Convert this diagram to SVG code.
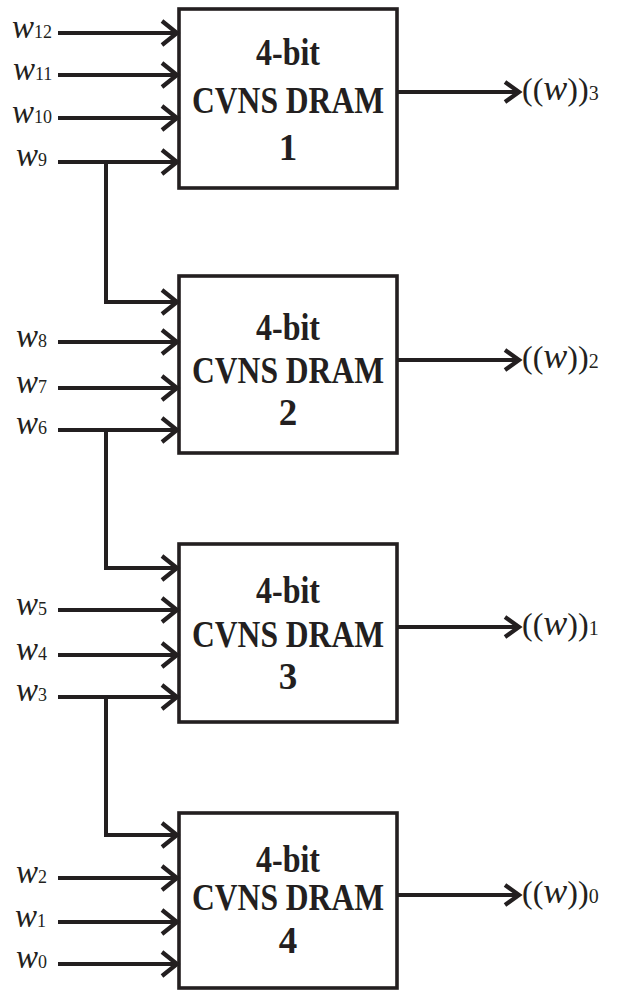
<svg xmlns="http://www.w3.org/2000/svg" width="619" height="990" viewBox="0 0 619 990">
<style>
.box{fill:#fff;stroke:#231f20;stroke-width:3.6}
.ln{fill:none;stroke:#231f20;stroke-width:4;stroke-linejoin:miter;stroke-linecap:butt}
.bt{font-family:"Liberation Serif","Times New Roman",serif;font-weight:bold;font-size:37px;fill:#231f20;text-anchor:middle}
.w{font-family:"Liberation Serif","Times New Roman",serif;font-style:italic;font-size:33px;fill:#231f20}
.sub{font-family:"Liberation Serif","Times New Roman",serif;font-style:normal;font-size:18px}
.o{font-family:"Liberation Serif","Times New Roman",serif;font-size:32px;fill:#231f20}
</style>
<defs>
<marker id="arr" markerUnits="userSpaceOnUse" markerWidth="20" markerHeight="30" refX="16" refY="13" orient="auto" overflow="visible">
<path d="M1,1 L16,13 L1,25" fill="none" stroke="#231f20" stroke-width="4.2"/>
</marker>
<marker id="arr2" markerUnits="userSpaceOnUse" markerWidth="20" markerHeight="30" refX="15" refY="11" orient="auto" overflow="visible">
<path d="M1,1 L15,11 L1,21" fill="none" stroke="#231f20" stroke-width="4.2"/>
</marker>
</defs>
<g id="node1">
<rect class="box" x="179" y="9" width="218" height="179"/>
<text class="bt" x="288" y="65" textLength="64" lengthAdjust="spacingAndGlyphs">4-bit</text>
<text class="bt" x="288" y="113" textLength="192" lengthAdjust="spacingAndGlyphs">CVNS DRAM</text>
<text class="bt" x="288" y="160">1</text>
</g>
<g id="node2">
<rect class="box" x="179" y="276" width="218" height="177"/>
<text class="bt" x="288" y="340" textLength="64" lengthAdjust="spacingAndGlyphs">4-bit</text>
<text class="bt" x="288" y="383" textLength="192" lengthAdjust="spacingAndGlyphs">CVNS DRAM</text>
<text class="bt" x="288" y="425">2</text>
</g>
<g id="node3">
<rect class="box" x="179" y="544" width="218" height="178"/>
<text class="bt" x="288" y="603" textLength="64" lengthAdjust="spacingAndGlyphs">4-bit</text>
<text class="bt" x="288" y="647" textLength="192" lengthAdjust="spacingAndGlyphs">CVNS DRAM</text>
<text class="bt" x="288" y="689">3</text>
</g>
<g id="node4">
<rect class="box" x="179" y="813" width="218" height="175"/>
<text class="bt" x="288" y="872" textLength="64" lengthAdjust="spacingAndGlyphs">4-bit</text>
<text class="bt" x="288" y="910" textLength="192" lengthAdjust="spacingAndGlyphs">CVNS DRAM</text>
<text class="bt" x="288" y="953">4</text>
</g>
<g id="connectors">
<path class="ln" marker-end="url(#arr)" d="M58,33 H177"/>
<path class="ln" marker-end="url(#arr)" d="M58,75 H177"/>
<path class="ln" marker-end="url(#arr)" d="M58,118 H177"/>
<path class="ln" marker-end="url(#arr)" d="M58,162 H177"/>
<path class="ln" marker-end="url(#arr)" d="M106,162 V302 H177"/>
<path class="ln" marker-end="url(#arr)" d="M58,342 H177"/>
<path class="ln" marker-end="url(#arr)" d="M58,388 H177"/>
<path class="ln" marker-end="url(#arr)" d="M58,430 H177"/>
<path class="ln" marker-end="url(#arr)" d="M106,430 V568 H177"/>
<path class="ln" marker-end="url(#arr)" d="M58,610 H177"/>
<path class="ln" marker-end="url(#arr)" d="M58,655 H177"/>
<path class="ln" marker-end="url(#arr)" d="M58,697 H177"/>
<path class="ln" marker-end="url(#arr)" d="M106,697 V835 H177"/>
<path class="ln" marker-end="url(#arr)" d="M58,878 H177"/>
<path class="ln" marker-end="url(#arr)" d="M58,922 H177"/>
<path class="ln" marker-end="url(#arr)" d="M58,964 H177"/>
<path class="ln" marker-end="url(#arr2)" d="M397,92 H519"/>
<path class="ln" marker-end="url(#arr2)" d="M397,360 H519"/>
<path class="ln" marker-end="url(#arr2)" d="M397,627 H519"/>
<path class="ln" marker-end="url(#arr2)" d="M397,895 H519"/>
</g>
<g id="labels">
<text class="w" x="12" y="38">w<tspan class="sub">12</tspan></text>
<text class="w" x="13" y="80">w<tspan class="sub">11</tspan></text>
<text class="w" x="12" y="123">w<tspan class="sub">10</tspan></text>
<text class="w" x="16" y="166">w<tspan class="sub">9</tspan></text>
<text class="w" x="16" y="347">w<tspan class="sub">8</tspan></text>
<text class="w" x="16" y="393">w<tspan class="sub">7</tspan></text>
<text class="w" x="16" y="434">w<tspan class="sub">6</tspan></text>
<text class="w" x="16" y="615">w<tspan class="sub">5</tspan></text>
<text class="w" x="16" y="660">w<tspan class="sub">4</tspan></text>
<text class="w" x="16" y="701">w<tspan class="sub">3</tspan></text>
<text class="w" x="16" y="883">w<tspan class="sub">2</tspan></text>
<text class="w" x="15" y="927">w<tspan class="sub">1</tspan></text>
<text class="w" x="16" y="968">w<tspan class="sub">0</tspan></text>
<text class="o" x="522" y="100">((<tspan font-style="italic" font-size="36">w</tspan>))<tspan font-size="20">3</tspan></text>
<text class="o" x="522" y="368">((<tspan font-style="italic" font-size="36">w</tspan>))<tspan font-size="20">2</tspan></text>
<text class="o" x="522" y="635">((<tspan font-style="italic" font-size="36">w</tspan>))<tspan font-size="20">1</tspan></text>
<text class="o" x="522" y="903">((<tspan font-style="italic" font-size="36">w</tspan>))<tspan font-size="20">0</tspan></text>
</g>
</svg>
